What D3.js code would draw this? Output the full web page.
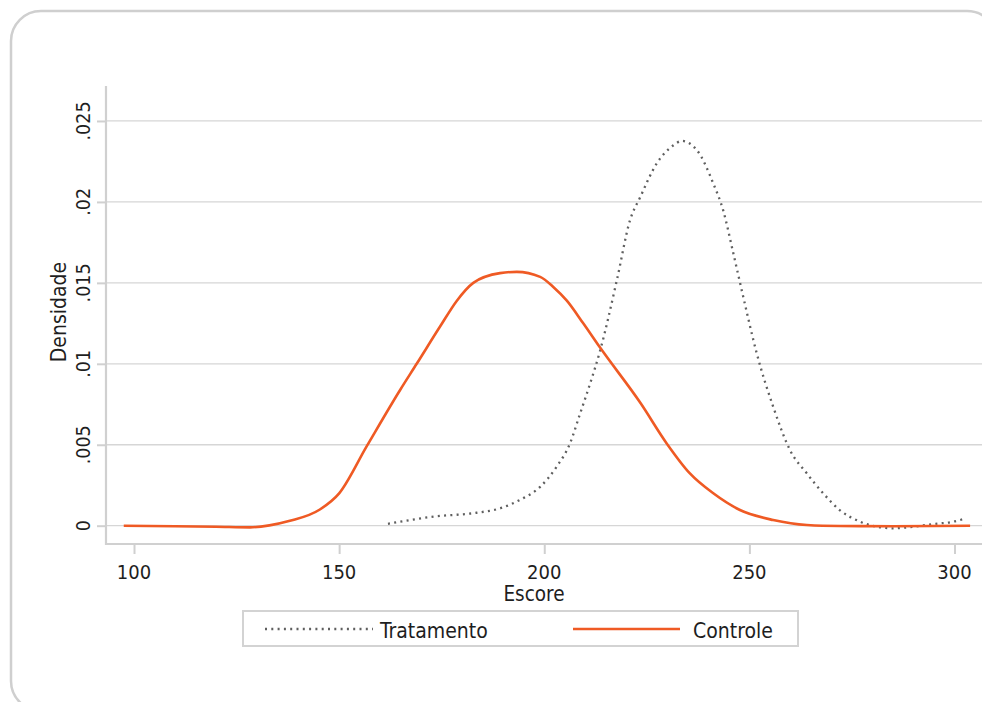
<!DOCTYPE html>
<html><head><meta charset="utf-8">
<script src="https://cdn.jsdelivr.net/npm/d3@7"></script>
<style>
body{margin:0;background:#fff;}
svg{display:block;}
text{font-family:"DejaVu Sans Condensed","Liberation Sans Narrow",sans-serif;fill:#1e1e1e;}
</style>
</head><body>
<svg id="c" width="982" height="702"></svg>
<script>
// ---- data ----
const xTicks = [100, 150, 200, 250, 300];
const yTicks = [0, 0.005, 0.01, 0.015, 0.02, 0.025];
const yTickLabels = ["0", ".005", ".01", ".015", ".02", ".025"];
const xTitle = "Escore";
const yTitle = "Densidade";
const seriesNames = ["Tratamento", "Controle"];

const controleX = [97.5, 110, 120, 128.3, 133, 138.0, 145.3, 150, 156.7, 164.9, 168.9, 174.6, 178.7, 182.7, 189.2, 193.3, 199.0, 202.2, 205.5, 209.5, 213.6, 223.5, 229.8, 235.5, 241.2, 247.7, 255.8, 264.0, 272.1, 285, 303.8];
const controleY = [0.0000, -0.00003, -0.00006, -0.0001, 0.00002, 0.0003, 0.0010, 0.0020, 0.0049, 0.0084, 0.0100, 0.0123, 0.0139, 0.0150, 0.0156, 0.01568, 0.01537, 0.01475, 0.0139, 0.0125, 0.0110, 0.00756, 0.0051, 0.00323, 0.0020, 0.00097, 0.00035, 0.00004, -0.00002, -0.00003, 0.0000];

const tratamentoX = [161.9, 173.0, 183.5, 189.2, 194.1, 199.0, 203.0, 206.3, 208.7, 211.2, 213.6, 217.7, 220.9, 223.4, 227.4, 231.5, 233.5, 237.2, 241.2, 243.6, 246.1, 248.5, 251.8, 255.8, 259.9, 264.0, 268.0, 272.1, 277.0, 281.8, 285.1, 290.0, 294.8, 299.7, 302.1];
const tratamentoY = [0.00012, 0.00056, 0.0008, 0.00107, 0.0016, 0.0024, 0.00364, 0.0051, 0.0069, 0.0088, 0.0108, 0.01517, 0.01887, 0.0203, 0.02237, 0.0235, 0.02377, 0.0232, 0.02114, 0.01949, 0.01681, 0.01414, 0.01064, 0.00735, 0.00467, 0.00323, 0.0020, 0.00095, 0.00025, -0.0001, -0.00016, -0.00006, 0.0001, 0.00025, 0.0004];

// ---- styles ----
const ORANGE = "#ef5a24";
const DOTS = "#5f5f5f";
const GRID = "#d6d6d6";
const AXIS = "#d0d0d0";

const svg = d3.select("#c");

// outer frame
svg.append("rect").attr("x", 11).attr("y", 11).attr("width", 986).attr("height", 700)
  .attr("rx", 30).attr("fill", "#fff").attr("stroke", "#cfcfcf").attr("stroke-width", 2.5);

const x = d3.scaleLinear().domain([93.17, 306.7]).range([106, 982]);
const y = d3.scaleLinear().domain([-0.00113, 0.02716]).range([544, 86]);

// gridlines
svg.append("g").selectAll("line").data(yTicks).join("line")
  .attr("x1", 106).attr("x2", 982)
  .attr("y1", d => y(d)).attr("y2", d => y(d))
  .attr("stroke", GRID).attr("stroke-width", 1.3);

// y axis
const yAxis = d3.axisLeft(y).tickValues(yTicks).tickSize(9).tickPadding(0).tickFormat("");
const gy = svg.append("g").attr("transform", "translate(106,0)").call(yAxis);
gy.select(".domain").remove();
gy.selectAll(".tick line").attr("stroke", AXIS).attr("stroke-width", 2);
svg.append("line").attr("x1", 106).attr("x2", 106).attr("y1", 86).attr("y2", 545)
  .attr("stroke", AXIS).attr("stroke-width", 2.2);
svg.append("g").selectAll("text").data(yTicks).join("text")
  .attr("transform", d => `translate(90,${y(d)}) rotate(-90)`)
  .attr("text-anchor", "middle").attr("font-size", 19.5)
  .text((d, i) => yTickLabels[i]);

// x axis
const xAxis = d3.axisBottom(x).tickValues(xTicks).tickSize(10).tickFormat("");
const gx = svg.append("g").attr("transform", "translate(0,544)").call(xAxis);
gx.select(".domain").remove();
gx.selectAll(".tick line").attr("stroke", AXIS).attr("stroke-width", 2);
svg.append("line").attr("x1", 105).attr("x2", 982).attr("y1", 544).attr("y2", 544)
  .attr("stroke", AXIS).attr("stroke-width", 2.2);
svg.append("g").selectAll("text").data(xTicks).join("text")
  .attr("x", d => x(d)).attr("y", 579)
  .attr("text-anchor", "middle").attr("font-size", 20)
  .text(d => d);

// titles
svg.append("text").attr("x", 534).attr("y", 601).attr("text-anchor", "middle")
  .attr("font-size", 20.5).text(xTitle);
svg.append("text").attr("transform", "translate(66,312) rotate(-90)")
  .attr("text-anchor", "middle").attr("font-size", 21).text(yTitle);

// curves
const line = d3.line().x(d => x(d[0])).y(d => y(d[1])).curve(d3.curveMonotoneX);
const ctrl = controleX.map((v, i) => [v, controleY[i]]);
const trat = tratamentoX.map((v, i) => [v, tratamentoY[i]]);

svg.append("path").datum(trat).attr("d", line).attr("fill", "none")
  .attr("stroke", DOTS).attr("stroke-width", 2.3).attr("stroke-dasharray", "2 4.3");
svg.append("path").datum(ctrl).attr("d", line).attr("fill", "none")
  .attr("stroke", ORANGE).attr("stroke-width", 2.6);

// legend
const lg = svg.append("g");
lg.append("rect").attr("x", 243).attr("y", 611).attr("width", 555).attr("height", 35)
  .attr("fill", "#fff").attr("stroke", "#d3d3d3").attr("stroke-width", 2);
lg.append("line").attr("x1", 265).attr("x2", 373).attr("y1", 629).attr("y2", 629)
  .attr("stroke", DOTS).attr("stroke-width", 2.3).attr("stroke-dasharray", "2 4.3");
lg.append("text").attr("x", 380).attr("y", 637.5).attr("font-size", 21).text(seriesNames[0]);
lg.append("line").attr("x1", 573).attr("x2", 680).attr("y1", 629).attr("y2", 629)
  .attr("stroke", ORANGE).attr("stroke-width", 2.6);
lg.append("text").attr("x", 693).attr("y", 637.5).attr("font-size", 21).text(seriesNames[1]);
</script>
</body></html>
